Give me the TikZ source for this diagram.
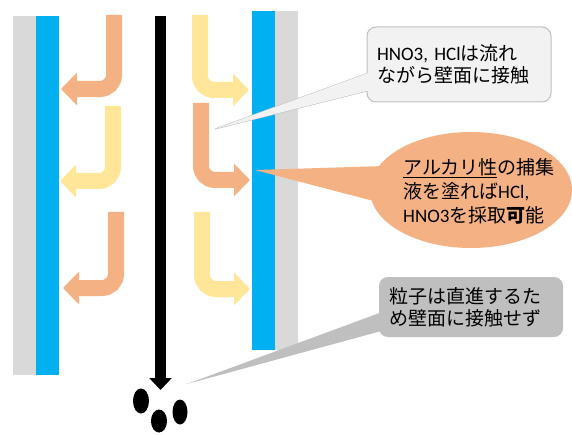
\documentclass[tikz,border=0pt]{standalone}
\usepackage{fontspec}
\setmainfont{Noto Sans CJK JP}
\newfontfamily\calib{Carlito}
\usetikzlibrary{arrows.meta,shapes.geometric}
\definecolor{wallgray}{HTML}{D9D9D9}
\definecolor{wallblue}{HTML}{00B0F0}
\definecolor{flowora}{HTML}{F4B183}
\definecolor{flowyel}{HTML}{FFE699}
\definecolor{boxgray}{HTML}{F2F2F2}
\definecolor{boxline}{HTML}{BFBFBF}
\definecolor{notegray}{HTML}{BFBFBF}

\begin{document}
\begin{tikzpicture}[x=1pt,y=-1pt,
	flow/.style={line width=16pt, rounded corners=14pt, -{Triangle[width=32pt,length=16pt]}},
	memo/.style={font=\fontsize{19}{22}\selectfont, align=left, text width=164pt,
		inner xsep=10pt, inner ysep=0pt, rounded corners=9pt, minimum width=184pt}]
	\useasboundingbox (0,0) rectangle (572,435);
	% walls
	\fill[wallgray] (13,16) rectangle (36,375);
	\fill[wallblue] (36,16) rectangle (59,375);
	\fill[wallblue] (252,11) rectangle (275,350);
	\fill[wallgray] (275,11) rectangle (298,350);
	% gas flow
	\draw[flow, flowora] (114,15) -- (114,89) -- (61,89);
	\draw[flow, flowyel] (113,106) -- (113,181) -- (60,181);
	\draw[flow, flowora] (116,212) -- (116,288) -- (63,288);
	\draw[flow, flowyel] (200,15) -- (200,90) -- (249,90);
	\draw[flow, flowora] (201,103) -- (201,180) -- (250,180);
	\draw[flow, flowyel] (202,212) -- (202,289) -- (250,289);
	% particles
	\coordinate (droptop) at (160.5,16);
	\coordinate (dropend) at (160.5,390);
	\draw[line width=11pt, -{Triangle[width=22pt,length=12pt]}] (droptop) -- (dropend);
	\fill (141,401) ellipse [x radius=8pt, y radius=12.5pt];
	\fill (159,421) ellipse [x radius=8pt, y radius=11.5pt];
	\fill (180,412) ellipse [x radius=7.5pt, y radius=12.5pt];
	% callouts
	\coordinate (tip1) at (215,129);
	\coordinate (base1a) at (371,72);
	\coordinate (base1b) at (371,90);
	\filldraw[fill=boxgray, draw=boxline, line width=1pt] (tip1) -- (base1a) -- (base1b) -- cycle;
	\node[memo, fill=boxgray, draw=boxline, line width=1pt, minimum height=75pt] (note1) at (459,64.5)
		{{\calib HNO3, HCl}は流れ\\ながら壁面に接触};
	\fill[boxgray] (tip1) -- (base1a) -- (base1b) -- cycle;

	\coordinate (tip2) at (255,170);
	\fill[flowora] (tip2) -- (385,166) -- (385,204) -- cycle;
	\node[ellipse, fill=flowora, minimum width=202pt, minimum height=116pt] (trap) at (471,190) {};
	\node[font=\fontsize{19}{24}\selectfont, align=left, text width=160pt, inner sep=0pt, anchor=west] (traptext) at (403,191)
		{\underline{アルカリ性}の捕集\\液を塗れば{\calib HCl,}\\{\calib HNO3}を採取{\bfseries 可}能};

	\coordinate (tip3) at (187,384);
	\fill[notegray] (tip3) -- (385,311) -- (385,330) -- cycle;
	\node[memo, fill=notegray, minimum height=60pt] (note3) at (471,307)
		{粒子は直進するた\\め壁面に接触せず};
\end{tikzpicture}
\end{document}
